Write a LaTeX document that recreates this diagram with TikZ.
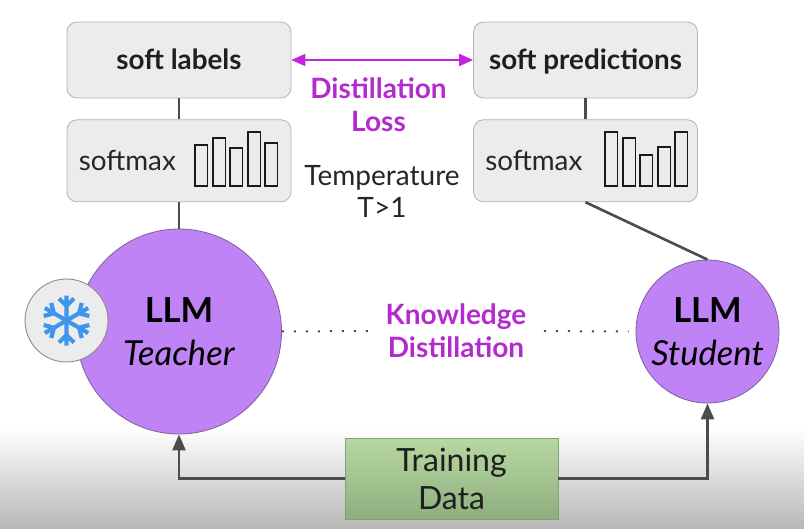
\documentclass[tikz,border=0pt]{standalone}
\usepackage{fontspec}
\setmainfont{Lato}
\usetikzlibrary{positioning,arrows.meta,calc}
\definecolor{boxgray}{HTML}{ECECEC}
\definecolor{boxline}{HTML}{B2B2B2}
\definecolor{llmpurple}{HTML}{BF83F5}
\definecolor{llmline}{HTML}{7D5F9C}
\definecolor{lossmagenta}{HTML}{C424E0}
\definecolor{losstext}{HTML}{B42ACE}
\definecolor{linegray}{HTML}{4C4C4C}
\definecolor{flakeblue}{HTML}{3F95EE}
\definecolor{traintop}{HTML}{B7D8A2}
\definecolor{trainbottom}{HTML}{8FAE7E}
\definecolor{trainline}{HTML}{84A274}
\tikzset{soft box/.style={rectangle,rounded corners=10pt,draw=boxline,fill=boxgray,line width=0.8pt,minimum width=224pt,inner sep=0pt,text=black!88},
  soft title/.style={font=\fontsize{27.8}{32}\selectfont\bfseries,text height=20pt,text depth=2pt},
  main node/.style={circle,draw=llmline,fill=llmpurple,line width=0.8pt,inner sep=0pt,align=center,font=\fontsize{34.5}{43}\selectfont},
  freeze node/.style={circle,draw=black!45,fill=boxgray,line width=0.9pt,minimum size=83pt,inner sep=0pt},
  magenta text/.style={text=losstext,font=\fontsize{28}{33}\selectfont\bfseries,align=center},
  bar/.style={draw=black!90,line width=1.4pt,fill=none},
  link/.style={draw=linegray,line width=2.6pt},
  dot link/.style={draw=black!70,line width=2pt,dash pattern=on 2pt off 10pt},
}

\begin{document}
\begin{tikzpicture}[x=1pt,y=-1pt]
  \shade[top color=white,bottom color=black!28] (0,428) rectangle (804,528);
  \path[use as bounding box] (0,0) rectangle (804,528);

  \node[soft box,minimum height=76pt,soft title] (softlabels) at (179,60) {soft labels};
  \node[soft box,minimum height=82pt] (softmaxT) [below = 21pt of softlabels] {};
  \node[soft box,minimum height=76pt,soft title] (softpreds) at (585.5,60) {soft predictions};
  \node[soft box,minimum height=82pt] (softmaxS) [below = 21pt of softpreds] {};
  \node[right = 12pt of softmaxT.west,inner sep=0pt,font=\fontsize{27.8}{32}\selectfont,text=black!85] (softmaxTtext) {softmax};
  \node[right = 12pt of softmaxS.west,inner sep=0pt,font=\fontsize{27.8}{32}\selectfont,text=black!85] (softmaxStext) {softmax};

  % bars of both softmax boxes
  \foreach \xa/\top in {195/145,213/138,230/148,248/132,265/143}
    \draw[bar] (\xa,186) rectangle (\xa+12.5,\top);
  \foreach \xa/\top in {605/132,623/138,640/155,658/147,675/132}
    \draw[bar] (\xa,186) rectangle (\xa+12.5,\top);

  \node[main node,minimum size=205pt] (teacher) at (179,331.5) {\textbf{LLM}\\\textit{Teacher}};
  \node[main node,minimum size=143pt] (student) at (707.5,331.5) {\textbf{LLM}\\\textit{Student}};
  \node[freeze node] (freeze) at (66.5,320.5) {};

  % snowflake
  \foreach \ang in {0,60,...,300}
    \draw[flakeblue,line width=4.2pt,rotate around={\ang:(freeze.center)}]
      (freeze.center) -- ++(0,-25)
      ($(freeze.center)+(-7.5,-22)$) -- ($(freeze.center)+(0,-14.5)$) -- ($(freeze.center)+(7.5,-22)$);

  \node[magenta text] (distloss) at (378.5,105) {Distillation\\Loss};
  \node[font=\fontsize{28}{32}\selectfont,align=center,text=black!85] (temp) at (382,191.5) {Temperature\\T>1};
  \node[magenta text] (knowledge) at (456,331) {Knowledge\\Distillation};
  \node[rectangle,draw=trainline,top color=traintop,bottom color=trainbottom,line width=0.8pt,minimum width=213pt,minimum height=81pt,inner sep=0pt,align=center,font=\fontsize{32}{38}\selectfont,text=black!88] (train) at (451.5,478.5) {Training\\Data};

  \path[link]
    (softlabels) edge (softmaxT)
    (softmaxT) edge (teacher)
    (softpreds) edge (softmaxS)
    (softmaxS.south) edge (student.north);
  \draw[lossmagenta,line width=2.2pt,{Triangle[length=14pt,width=12pt]}-{Triangle[length=14pt,width=12pt]}] (softlabels) -- (softpreds);
  \draw[link,-{Triangle[length=16pt,width=13pt]}] (train) -| (teacher);
  \draw[link,-{Triangle[length=16pt,width=13pt]}] (train) -| (student);
  \draw[dot link,shorten >=10pt] (teacher) -- (knowledge);
  \draw[dot link,shorten <=14pt,shorten >=7pt] (knowledge) -- (student);
\end{tikzpicture}
\end{document}
